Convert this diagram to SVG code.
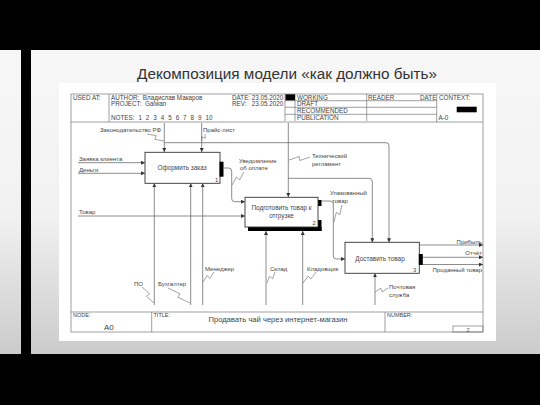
<svg xmlns="http://www.w3.org/2000/svg" width="540" height="405" viewBox="0 0 540 405">
<defs>
<linearGradient id="bg" x1="0" y1="50" x2="0" y2="354" gradientUnits="userSpaceOnUse">
<stop offset="0" stop-color="#f7f7f7"/>
<stop offset="0.55" stop-color="#f1f1f1"/>
<stop offset="1" stop-color="#cbcbcb"/>
</linearGradient>
<marker id="ah" viewBox="0 0 6 6" refX="6" refY="3" markerWidth="4" markerHeight="4" markerUnits="userSpaceOnUse" orient="auto">
<path d="M0,0 L6,3 L0,6 z" fill="#333"/>
</marker>
<style>
.f{font-family:"Liberation Sans",Arial,sans-serif;fill:#444}
.h{font-size:6.3px}
.l{font-size:6px}
.b{font-size:6.4px}
.fr{fill:none;stroke:#777;stroke-width:0.7}
.c{fill:none;stroke:#555;stroke-width:0.8}
.ca{fill:none;stroke:#666;stroke-width:0.75;marker-end:url(#ah)}
.z{fill:none;stroke:#666;stroke-width:0.6}
.box{fill:#fff;stroke:#333;stroke-width:0.9}
</style>
</defs>
<rect x="0" y="0" width="540" height="405" fill="#000"/>
<rect x="0" y="50" width="540" height="304" fill="url(#bg)"/>
<rect x="21" y="50" width="10" height="304" fill="#000"/>
<text x="287" y="79" text-anchor="middle" font-family="'Liberation Sans',Arial,sans-serif" font-size="15.3" fill="#333">Декомпозиция модели «как должно быть»</text>
<rect x="59" y="83" width="437" height="258" fill="#fff"/>

<g id="frame">
<rect class="fr" x="71" y="94" width="412" height="238"/>
<line class="fr" x1="109" y1="94" x2="109" y2="122"/>
<line class="fr" x1="285" y1="94" x2="285" y2="121"/>
<line class="fr" x1="295" y1="94" x2="295" y2="121"/>
<line class="fr" x1="366.7" y1="94" x2="366.7" y2="121"/>
<line class="fr" x1="436.7" y1="94" x2="436.7" y2="122"/>
<line class="fr" x1="285" y1="100.7" x2="436.7" y2="100.7"/>
<line class="fr" x1="285" y1="107.3" x2="436.7" y2="107.3"/>
<line class="fr" x1="285" y1="114.3" x2="436.7" y2="114.3"/>
<line class="fr" x1="71" y1="122" x2="483" y2="122"/>
<rect x="285.5" y="94.3" width="9.5" height="6" fill="#000"/>
<rect x="456.7" y="106.7" width="20" height="5.6" fill="#000"/>
<text class="f h" x="73" y="100">USED AT:</text>
<text class="f h" x="111" y="99.5" xml:space="preserve">AUTHOR:  Владислав Макаров</text>
<text class="f h" x="111" y="105.5" xml:space="preserve">PROJECT:  Gaiwan</text>
<text class="f h" x="111" y="119.5" word-spacing="2.2">NOTES: 1 2 3 4 5 6 7 8 9 10</text>
<text class="f h" x="232" y="99.5" xml:space="preserve">DATE: 23.05.2020</text>
<text class="f h" x="232" y="105.5" xml:space="preserve">REV:   23.05.2020</text>
<text class="f h" x="297" y="99.5">WORKING</text>
<text class="f h" x="297" y="106.3">DRAFT</text>
<text class="f h" x="297" y="113.2">RECOMMENDED</text>
<text class="f h" x="297" y="120.2">PUBLICATION</text>
<text class="f h" x="368" y="99.5">READER</text>
<text class="f h" x="420" y="99.5">DATE</text>
<text class="f h" x="439" y="99.5">CONTEXT:</text>
<text class="f h" x="438.5" y="120.2">A-0</text>
<line class="fr" x1="71" y1="312" x2="483" y2="312"/>
<line class="fr" x1="151.7" y1="312" x2="151.7" y2="332"/>
<line class="fr" x1="385" y1="312" x2="385" y2="332"/>
<rect class="fr" x="453" y="326" width="30" height="6"/>
<text class="f" font-size="5.5" x="73" y="317">NODE:</text>
<text class="f" font-size="5.5" x="153.5" y="317">TITLE:</text>
<text class="f" font-size="5.5" x="387" y="317">NUMBER:</text>
<text class="f" font-size="8" x="104" y="329.5">A0</text>
<text class="f" font-size="7.6" x="278" y="322" text-anchor="middle">Продавать чай через интернет-магазин</text>
<text class="f" font-size="5.5" x="468" y="331.5" text-anchor="middle">2</text>
</g>

<g id="connectors">
<path class="ca" d="M78,162.7 H145"/>
<path class="ca" d="M78,173.3 H145"/>
<path class="ca" d="M78,216 H245"/>
<path class="ca" d="M164.3,123 V152"/>
<path class="ca" d="M164.3,142.7 H386 Q389,142.7 389,145.7 V242.3"/>
<path class="ca" d="M201.7,123 V152"/>
<path class="ca" d="M288.3,123 V197"/>
<path class="ca" d="M288.3,178.3 H369 Q372.3,178.3 372.3,181.3 V242.3"/>
<path class="ca" d="M223.5,168 H228.7 Q231.7,168 231.7,171 V198.7 Q231.7,201.7 234.7,201.7 H245"/>
<path class="ca" d="M321.5,201 H330 Q333.3,201 333.3,204 V256 Q333.3,259 336.3,259 H345"/>
<path class="ca" d="M419.3,245 H483"/>
<path class="ca" d="M422.5,257.3 H483"/>
<path class="ca" d="M422.5,264.5 H483"/>
<path class="ca" d="M154.3,305 V183.3"/>
<path class="ca" d="M190.7,305 V183.3"/>
<path class="ca" d="M202.7,305 V183.3"/>
<path class="ca" d="M266,305 V231"/>
<path class="ca" d="M302.7,305 V231"/>
<path class="ca" d="M375,305 V273.3"/>
<path class="z" d="M147,134 L156.3,135.7 L154.7,139.3 L164,141"/>
<path class="z" d="M205,134 L205.3,138.3 L201.7,136.7 L202,141"/>
<path class="z" d="M244,172 L239.5,179.9 L236.5,177.1 L232,185"/>
<path class="z" d="M310,157 L299.8,160.5 L299.2,156.5 L289,160"/>
<path class="z" d="M342,205 L339.8,214.4 L336.2,212.6 L334,222"/>
<path class="z" d="M142,287 L149.6,293.8 L146.4,296.2 L154,303"/>
<path class="z" d="M168,288 L180.1,293.8 L177.9,297.2 L190,303"/>
<path class="z" d="M214,272 L209.8,278.5 L207.2,275.5 L203,282"/>
<path class="z" d="M275,272 L272.6,278.7 L269.4,276.3 L267,283"/>
<path class="z" d="M316,272 L310.8,279 L308.2,276 L303,283"/>
<path class="z" d="M388,288 L382.1,291.9 L380.9,288.1 L375,292"/>
</g>

<g id="labels">
<text class="f l" x="100" y="131.5">Законодательство РФ</text>
<text class="f l" x="203" y="131.5">Прайс-лист</text>
<text class="f l" x="79" y="161">Заявка клиента</text>
<text class="f l" x="79" y="171.5">Деньги</text>
<text class="f l" x="79" y="214">Товар</text>
<text class="f l" x="239" y="163">Уведомление</text>
<text class="f l" x="240" y="170">об оплате</text>
<text class="f l" x="312" y="158">Технический</text>
<text class="f l" x="312" y="165.5">регламент</text>
<text class="f l" x="330" y="194.5">Упакованный</text>
<text class="f l" x="332" y="202.5">товар</text>
<text class="f l" x="482" y="243.5" text-anchor="end">Прибыль</text>
<text class="f l" x="482" y="255" text-anchor="end">Отчёт</text>
<text class="f l" x="482" y="271.5" text-anchor="end">Проданный товар</text>
<text class="f l" x="134" y="285.5">ПО</text>
<text class="f l" x="158" y="285.5">Бухгалтер</text>
<text class="f l" x="205" y="271">Менеджер</text>
<text class="f l" x="270" y="271">Склад</text>
<text class="f l" x="307" y="271">Кладовщик</text>
<text class="f l" x="389" y="288.5">Почтовая</text>
<text class="f l" x="389" y="296.5">служба</text>
</g>

<g id="box1">
<rect class="box" x="145" y="152.3" width="75" height="31"/>
<rect x="219.5" y="161.7" width="4" height="15" fill="#000"/>
<text class="f b" x="182" y="170" text-anchor="middle">Оформить заказ</text>
<text class="f l" x="215" y="181.5">1</text>
</g>

<g id="box2">
<rect x="248" y="227" width="73.5" height="4" fill="#000"/>
<rect x="318" y="220" width="3.5" height="11" fill="#000"/>
<rect x="318" y="200" width="3.5" height="6" fill="#000"/>
<rect class="box" x="245" y="197.3" width="73" height="29.7"/>
<text class="f b" x="281.5" y="210" text-anchor="middle">Подготовить товар к</text>
<text class="f b" x="281.5" y="218" text-anchor="middle">отгрузке</text>
<text class="f l" x="312.5" y="225">2</text>
</g>

<g id="box3">
<rect class="box" x="345" y="242.3" width="74.3" height="31"/>
<rect x="418.8" y="254" width="4" height="11" fill="#000"/>
<text class="f b" x="380" y="261" text-anchor="middle">Доставить товар</text>
<text class="f l" x="413" y="271.5">3</text>
</g>
</svg>
